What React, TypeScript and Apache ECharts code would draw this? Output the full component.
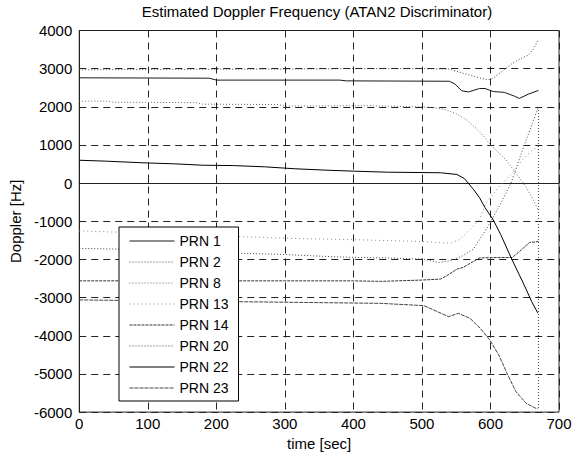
import React, { useEffect, useRef } from "react";
import * as echarts from "echarts";

// Series data: [time (s), Doppler (Hz)]
const prn1: number[][] = [[0,2760],[190,2750],[200,2700],[380,2700],[390,2680],[540,2670],[548,2600],[558,2420],[568,2390],[584,2480],[592,2480],[604,2400],[620,2380],[635,2280],[642,2220],[655,2330],[670,2430]];
const prn2: number[][] = [[0,-1710],[60,-1730],[150,-1790],[233,-1836],[300,-1871],[363,-1923],[407,-1949],[440,-1955],[503,-1992],[524,-2079],[541,-2036],[560,-1900],[575,-1731],[594,-1209],[613,-600],[630,0],[647,880],[670,2000],[670,-5900]];
const prn8: number[][] = [[0,2150],[40,2150],[50,2120],[170,2110],[180,2070],[290,2060],[300,2020],[420,2030],[500,2000],[520,1970],[536,1920],[552,1800],[565,1660],[580,1420],[590,1230],[600,1010],[612,800],[623,600],[637,270],[650,-50],[660,-350],[670,-720]];
const prn13: number[][] = [[0,-1250],[60,-1290],[150,-1350],[233,-1400],[300,-1444],[420,-1490],[500,-1530],[541,-1574],[555,-1480],[570,-1220],[584,-950],[594,-510],[613,-80],[632,270],[647,620],[660,850],[670,970]];
const prn14: number[][] = [[0,-2560],[400,-2560],[440,-2574],[500,-2540],[527,-2514],[536,-2428],[551,-2253],[560,-2209],[584,-1960],[608,-1950],[632,-1949],[645,-1750],[657,-1556],[670,-1530]];
const prn20: number[][] = [[0,2970],[100,2980],[200,2985],[300,2990],[400,3000],[500,3000],[540,2990],[560,2880],[580,2780],[595,2710],[602,2730],[615,2900],[632,3140],[645,3270],[655,3350],[662,3500],[670,3760]];
const prn22: number[][] = [[0,600],[40,575],[90,535],[140,505],[180,470],[225,460],[270,428],[315,376],[360,340],[402,313],[450,287],[527,272],[551,227],[562,120],[575,-160],[584,-380],[592,-640],[604,-960],[615,-1350],[630,-1950],[642,-2400],[652,-2780],[660,-3100],[669,-3400]];
const prn23: number[][] = [[0,-3060],[200,-3100],[440,-3150],[503,-3210],[539,-3500],[553,-3410],[570,-3540],[585,-3800],[599,-4110],[612,-4500],[623,-4940],[637,-5460],[652,-5770],[666,-5900],[669,-5910]];

const seriesNames = ["PRN 1", "PRN 2", "PRN 8", "PRN 13", "PRN 14", "PRN 20", "PRN 22", "PRN 23"];
const seriesData = [prn1, prn2, prn8, prn13, prn14, prn20, prn22, prn23];

const titleText = "Estimated Doppler Frequency (ATAN2 Discriminator)";
const xName = "time [sec]";
const yName = "Doppler [Hz]";

const styles: { color: string; type: any; width: number }[] = [
  { color: "#1a1a1a", type: "solid", width: 1 },
  { color: "#444", type: [1, 2], width: 1 },
  { color: "#666", type: [1, 2], width: 1 },
  { color: "#888", type: [1, 3], width: 1 },
  { color: "#333", type: [3, 1], width: 1 },
  { color: "#444", type: [1, 2], width: 1 },
  { color: "#000", type: "solid", width: 1 },
  { color: "#444", type: [4, 1], width: 1 },
];

const FONT = "'Liberation Sans', Arial, sans-serif";

export default function App() {
  const ref = useRef<HTMLDivElement>(null);
  useEffect(() => {
    if (!ref.current) return;
    const chart = echarts.init(ref.current, undefined, { renderer: "svg" });
    chart.setOption({
      animation: false,
      backgroundColor: "#fff",
      textStyle: { fontFamily: FONT },
      title: {
        text: titleText,
        left: 317,
        top: 4,
        padding: 0,
        textAlign: "center",
        textStyle: { fontFamily: FONT, fontSize: 15, fontWeight: "normal", color: "#000" },
      },
      legend: {
        orient: "vertical",
        left: 119,
        top: 227,
        padding: [7, 10, 6, 10],
        itemWidth: 45,
        itemHeight: 14,
        itemGap: 7,
        backgroundColor: "#fff",
        borderColor: "#000",
        borderWidth: 1,
        borderRadius: 0,
        itemStyle: { opacity: 0 },
        textStyle: { fontFamily: FONT, fontSize: 14, color: "#000" },
        data: seriesNames.map((name, i) => ({
          name,
          lineStyle: { color: styles[i].color, type: styles[i].type, width: 1 },
        })),
      },
      grid: {
        left: 75,
        right: 23,
        top: 30.5,
        bottom: 42.5,
        show: true,
        borderColor: "#222",
        borderWidth: 1,
        backgroundColor: "transparent",
      },
      xAxis: {
        type: "value",
        min: 0,
        max: 700,
        interval: 100,
        name: xName,
        nameLocation: "middle",
        nameGap: 20,
        nameTextStyle: { fontFamily: FONT, fontSize: 15, color: "#000" },
        axisLine: { show: true, lineStyle: { color: "#222" } },
        axisTick: { show: true, inside: true, length: 5, lineStyle: { color: "#222" } },
        axisLabel: { fontFamily: FONT, fontSize: 15, color: "#000", margin: 4, formatter: (v: number) => String(v) },
        splitLine: { show: true, lineStyle: { color: "#222", type: [7, 5], width: 1 } },
      },
      yAxis: {
        type: "value",
        min: -6000,
        max: 4000,
        interval: 1000,
        name: yName,
        nameLocation: "middle",
        nameGap: 46,
        nameRotate: 90,
        nameTextStyle: { fontFamily: FONT, fontSize: 15, color: "#000" },
        axisLine: { show: true, lineStyle: { color: "#222" } },
        axisTick: { show: true, inside: true, length: 5, lineStyle: { color: "#222" } },
        axisLabel: { fontFamily: FONT, fontSize: 15, color: "#000", margin: 7, formatter: (v: number) => String(v) },
        splitLine: { show: true, lineStyle: { color: "#222", type: [7, 5], width: 1 } },
      },
      series: seriesNames.map((name, i) => ({
        name,
        type: "line",
        data: seriesData[i],
        symbol: "none",
        showSymbol: false,
        lineStyle: { color: styles[i].color, type: styles[i].type, width: styles[i].width },
        itemStyle: { color: styles[i].color },
      })),
    });
    return () => chart.dispose();
  }, []);
  return (
    <div
      ref={ref}
      style={{ position: "fixed", left: 0, top: 0, width: 582, height: 456 }}
    />
  );
}
